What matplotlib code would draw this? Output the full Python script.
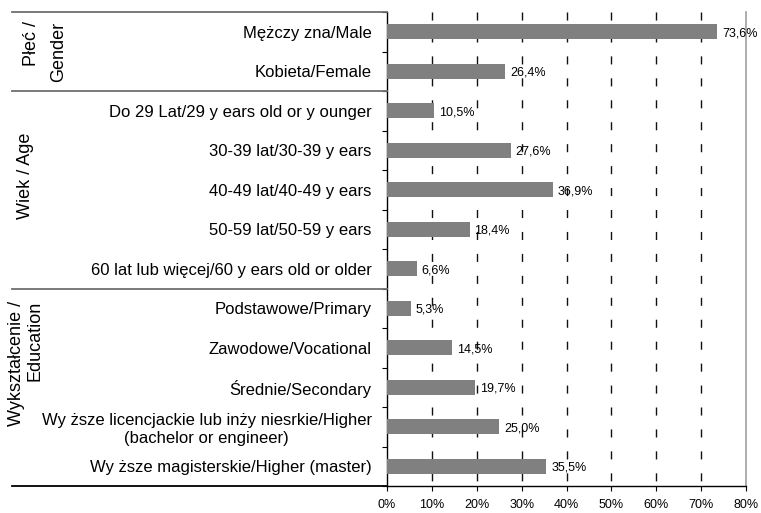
import matplotlib
matplotlib.use("Agg")
import matplotlib.pyplot as plt
from matplotlib.lines import Line2D
from matplotlib.transforms import blended_transform_factory

plt.rcParams['font.family'] = ['Liberation Sans', 'DejaVu Sans']
plt.rcParams['lines.scale_dashes'] = False

categories = [
    "Mężczy zna/Male",
    "Kobieta/Female",
    "Do 29 Lat/29 y ears old or y ounger",
    "30-39 lat/30-39 y ears",
    "40-49 lat/40-49 y ears",
    "50-59 lat/50-59 y ears",
    "60 lat lub więcej/60 y ears old or older",
    "Podstawowe/Primary",
    "Zawodowe/Vocational",
    "Średnie/Secondary",
    "Wy ższe licencjackie lub inży niesrkie/Higher\n(bachelor or engineer)",
    "Wy ższe magisterskie/Higher (master)",
]
values = [73.6, 26.4, 10.5, 27.6, 36.9, 18.4, 6.6, 5.3, 14.5, 19.7, 25.0, 35.5]
group_names = ["Płeć /\nGender", "Wiek / Age", "Wykształcenie /\nEducation"]
group_sizes = [2, 5, 5]
x_ticks = [0, 10, 20, 30, 40, 50, 60, 70, 80]
x_ticklabels = [f"{t}%" for t in x_ticks]

W, H = 761, 513
fig = plt.figure(figsize=(W / 100, H / 100), dpi=100)
left, right, top, bottom = 387, 746, 12, 486
ax = fig.add_axes([left / W, 1 - bottom / H, (right - left) / W, (bottom - top) / H])

n = len(categories)
ypos = list(range(n))
ax.barh(ypos, values, height=0.38, color='#808080', zorder=3)
ax.set_xlim(0, 80)
ax.set_ylim(n - 0.5, -0.5)

for y, v in zip(ypos, values):
    ax.annotate(f"{v:.1f}%".replace('.', ','), xy=(v, y), xytext=(3.5, -1),
                textcoords='offset points', va='center', ha='left', fontsize=9, zorder=4)

# dashed grid, drawn from the top down
for t in x_ticks[1:-1]:
    ax.plot([t, t], [-0.5, n - 0.5], color='#111111', lw=1.0,
            linestyle=(0, (5.8, 10.0)), zorder=1)

ax.set_xticks(x_ticks)
ax.set_xticklabels(x_ticklabels, fontsize=9)
ax.tick_params(axis='x', direction='out', length=3.6, width=0.8, pad=6)

ax.set_yticks([i - 0.5 for i in range(n + 1)])
ax.set_yticklabels([])
ax.tick_params(axis='y', which='major', direction='out', length=3.6, width=0.8)
ax.set_yticks(ypos, minor=True)
ax.set_yticklabels(categories, minor=True, fontsize=12)
ax.tick_params(axis='y', which='minor', length=0, pad=11)
for lab in ax.get_yticklabels(minor=True):
    lab.set_multialignment('center')

ax.spines['top'].set_visible(False)
ax.spines['right'].set_color('#a0a0a0')
ax.spines['right'].set_linewidth(1.2)
ax.spines['left'].set_linewidth(1.0)
ax.spines['bottom'].set_linewidth(1.0)

# group separators and labels
trans = blended_transform_factory(fig.transFigure, ax.transData)
bounds = [-0.5]
for s in group_sizes:
    bounds.append(bounds[-1] + s)
for i, b in enumerate(bounds):
    col = 'black' if i == len(bounds) - 1 else '#707070'
    fig.add_artist(Line2D([12 / W, left / W], [b, b], transform=trans,
                          color=col, lw=1.3, clip_on=False))

group_x = [45, 25, 26]
spacings = [1.75, 1.2, 1.1]
offsets = [0, -0.35, -0.6]
for name, x, b0, b1, off, ls in zip(group_names, group_x, bounds[:-1], bounds[1:], offsets, spacings):
    fig.text(x / W, (b0 + b1) / 2 + off, name, rotation=90, transform=trans, fontsize=13,
             ha='center', va='center', multialignment='right', linespacing=ls)

fig.savefig("out.png", dpi=100)
